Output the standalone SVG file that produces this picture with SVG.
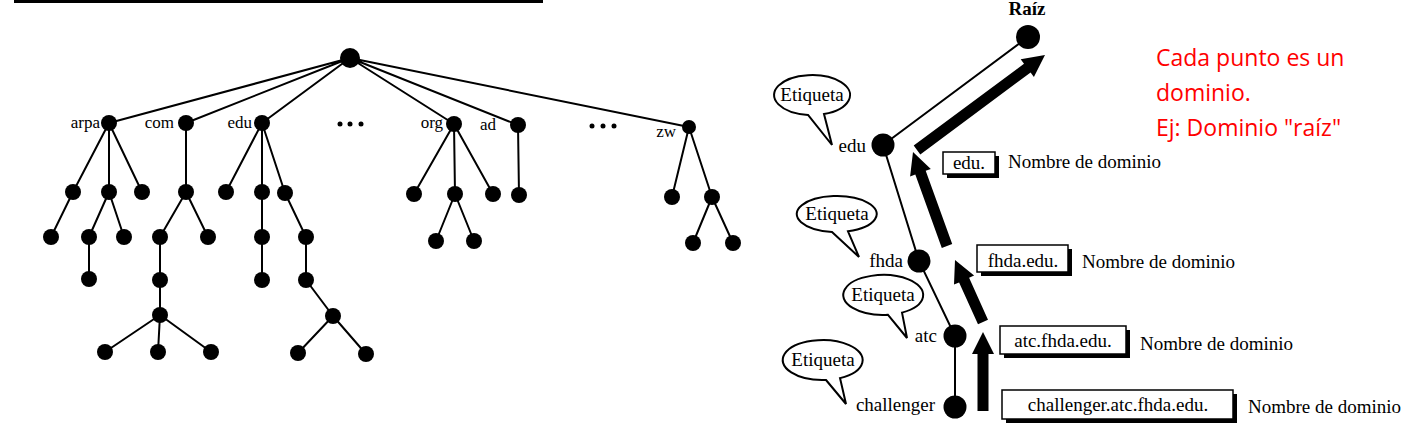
<svg xmlns="http://www.w3.org/2000/svg" width="1416" height="440" viewBox="0 0 1416 440">
<style>
.e{stroke:#000;stroke-width:2;fill:none}
.n{fill:#000}
.t{font-family:"Liberation Serif",serif;font-size:17px;fill:#000}
.r{font-family:"Liberation Serif",serif;font-size:19px;fill:#000}
.b{fill:#fff;stroke:#000;stroke-width:2}
.bx{fill:#fff;stroke:#000;stroke-width:1.5}
.red{font-family:"Open Sans",sans-serif;font-size:23px;fill:#f00}
</style>
<rect width="1416" height="440" fill="#fff"/>
<rect x="14" y="0" width="529" height="3" fill="#000"/>
<g id="connectors">
<path class="e" d="M350,58L109,123M350,58L186,123M350,58L262,123M350,58L454,124M350,58L518,125M350,58L689,127
M109,123L73,192M109,123L109,192M109,123L142,192M73,192L51,237M109,192L89,237M109,192L124,237M89,237L89,279
M186,123L186,192M186,192L160,237M186,192L208,237M160,237L160,280L160,315M160,315L105,352M160,315L158,352M160,315L211,352
M262,123L226,192M262,123L262,192M262,123L285,193M262,192L262,237L262,280M285,193L306,237L306,280L333,316M333,316L298,353M333,316L366,354
M454,124L414,194M454,124L455,194M454,124L493,194M455,194L436,241M455,194L474,241M518,125L519,195
M689,127L672,197M689,127L712,197M712,197L693,243M712,197L733,243"/>
<path class="e" d="M883,145L1028,37M883,145L919,261L955,336L955,407"/>
<g class="n">
<polygon points="920.3,154.4 1030.6,72.5 1033.9,76.9 1045,55 1020.7,59.3 1024,63.7 913.7,145.6"/>
<polygon points="952.2,244.1 925.7,170.8 930.8,169 913,152 910.1,176.4 915.3,174.6 941.8,247.9"/>
<polygon points="988,319.7 969.1,277.8 974.1,275.6 955,260 954,284.6 959.1,282.4 978,324.3"/>
<polygon points="988.5,411 988.5,354 994,354 983,332 972,354 977.5,354 977.5,411"/>
</g>
</g>
<g id="tree-root"><circle class="n" cx="350" cy="58" r="10"/></g>
<g id="arpa"><circle class="n" cx="109" cy="123" r="8"/><text class="t" x="100" y="128" text-anchor="end">arpa</text></g>
<g id="com"><circle class="n" cx="186" cy="123" r="8"/><text class="t" x="174" y="128" text-anchor="end">com</text></g>
<g id="edu-l"><circle class="n" cx="262" cy="123" r="8"/><text class="t" x="252" y="128" text-anchor="end">edu</text></g>
<g id="dots1" class="n"><circle cx="340" cy="124" r="2.5"/><circle cx="350" cy="124" r="2.5"/><circle cx="361" cy="124" r="2.5"/></g>
<g id="org"><circle class="n" cx="454" cy="124" r="8"/><text class="t" x="443" y="128" text-anchor="end">org</text></g>
<g id="ad"><circle class="n" cx="518" cy="125" r="8"/><text class="t" x="496" y="130" text-anchor="end">ad</text></g>
<g id="dots2" class="n"><circle cx="592" cy="126" r="2.5"/><circle cx="603" cy="126" r="2.5"/><circle cx="614" cy="126" r="2.5"/></g>
<g id="zw"><circle class="n" cx="689" cy="127" r="7"/><text class="t" x="676" y="137" text-anchor="end">zw</text></g>
<g id="leaves" class="n">
<g id="a1"><circle cx="73" cy="192" r="8"/></g><g id="a2"><circle cx="109" cy="192" r="8"/></g><g id="a3"><circle cx="142" cy="192" r="8"/></g>
<g id="a11"><circle cx="51" cy="237" r="8"/></g><g id="a21"><circle cx="89" cy="237" r="8"/></g><g id="a22"><circle cx="124" cy="237" r="8"/></g><g id="a211"><circle cx="89" cy="279" r="8"/></g>
<g id="c1"><circle cx="186" cy="192" r="8"/></g><g id="c11"><circle cx="160" cy="237" r="8"/></g><g id="c12"><circle cx="208" cy="237" r="8"/></g>
<g id="c111"><circle cx="160" cy="280" r="8"/></g><g id="c1111"><circle cx="160" cy="315" r="8"/></g>
<g id="c11111"><circle cx="105" cy="352" r="8"/></g><g id="c11112"><circle cx="158" cy="352" r="8"/></g><g id="c11113"><circle cx="211" cy="352" r="8"/></g>
<g id="e1"><circle cx="226" cy="192" r="8"/></g><g id="e2"><circle cx="262" cy="192" r="8"/></g><g id="e3"><circle cx="285" cy="193" r="8"/></g>
<g id="e21"><circle cx="262" cy="237" r="8"/></g><g id="e211"><circle cx="262" cy="280" r="8"/></g>
<g id="e31"><circle cx="306" cy="237" r="8"/></g><g id="e311"><circle cx="306" cy="280" r="8"/></g><g id="e3111"><circle cx="333" cy="316" r="8"/></g>
<g id="e31111"><circle cx="298" cy="353" r="8"/></g><g id="e31112"><circle cx="366" cy="354" r="8"/></g>
<g id="o1"><circle cx="414" cy="194" r="8"/></g><g id="o2"><circle cx="455" cy="194" r="8"/></g><g id="o3"><circle cx="493" cy="194" r="8"/></g>
<g id="o21"><circle cx="436" cy="241" r="8"/></g><g id="o22"><circle cx="474" cy="241" r="8"/></g>
<g id="ad1"><circle cx="519" cy="195" r="8"/></g>
<g id="z1"><circle cx="672" cy="197" r="8"/></g><g id="z2"><circle cx="712" cy="197" r="8"/></g>
<g id="z21"><circle cx="693" cy="243" r="8"/></g><g id="z22"><circle cx="733" cy="243" r="8"/></g>
</g>
<g id="raiz"><circle class="n" cx="1028" cy="37" r="12"/><text class="r" x="1027" y="15" text-anchor="middle" font-weight="bold" font-size="17">Raíz</text></g>
<g id="edu"><circle class="n" cx="883" cy="145" r="11.5"/><text class="r" x="866" y="152" text-anchor="end">edu</text>
<path class="b" d="M808,114.9L832,145L824,114A38,20 0 1 0 808,114.9Z"/><text class="r" x="812" y="101" text-anchor="middle">Etiqueta</text>
<rect x="947" y="156" width="52" height="22" fill="#000"/><rect class="bx" x="943" y="152" width="52" height="22"/><text class="r" x="969" y="169" text-anchor="middle">edu.</text>
<text class="r" x="1008" y="168">Nombre de dominio</text></g>
<g id="fhda"><circle class="n" cx="919" cy="261" r="11.5"/><text class="r" x="903" y="267" text-anchor="end">fhda</text>
<path class="b" d="M832,231.9L859,257L848,231.3A40,18 0 1 0 832,231.9Z"/><text class="r" x="837" y="220" text-anchor="middle">Etiqueta</text>
<rect x="981" y="249" width="91" height="27" fill="#000"/><rect class="bx" x="977" y="245" width="91" height="27"/><text class="r" x="1023" y="267" text-anchor="middle">fhda.edu.</text>
<text class="r" x="1082" y="268">Nombre de dominio</text></g>
<g id="atc"><circle class="n" cx="955" cy="336" r="11.5"/><text class="r" x="937" y="342" text-anchor="end">atc</text>
<path class="b" d="M888,314.8L907,338L902,312.6A40,20 0 1 0 888,314.8Z"/><text class="r" x="883" y="301" text-anchor="middle">Etiqueta</text>
<rect x="1004" y="330" width="126" height="28" fill="#000"/><rect class="bx" x="1000" y="326" width="126" height="28"/><text class="r" x="1063" y="347" text-anchor="middle">atc.fhda.edu.</text>
<text class="r" x="1140" y="350">Nombre de dominio</text></g>
<g id="challenger"><circle class="n" cx="955" cy="407" r="11.5"/><text class="r" x="935" y="411" text-anchor="end">challenger</text>
<path class="b" d="M826,380L846,404L840,378.1A40,20 0 1 0 826,380Z"/><text class="r" x="823" y="366" text-anchor="middle">Etiqueta</text>
<rect x="1006" y="394" width="231" height="29" fill="#000"/><rect class="bx" x="1002" y="390" width="231" height="29"/><text class="r" x="1118" y="411" text-anchor="middle">challenger.atc.fhda.edu.</text>
<text class="r" x="1248" y="413">Nombre de dominio</text></g>
<g id="note"><text class="red" x="1156" y="66">Cada punto es un</text><text class="red" x="1156" y="101">dominio.</text><text class="red" x="1156" y="136">Ej: Dominio "raíz"</text></g>
</svg>
